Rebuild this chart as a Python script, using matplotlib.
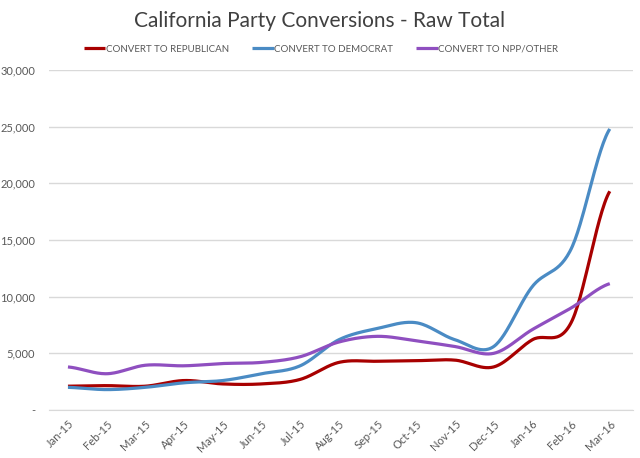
import numpy as np
import matplotlib
matplotlib.use("Agg")
import matplotlib.pyplot as plt
from matplotlib.ticker import FuncFormatter

months = ["Jan-15", "Feb-15", "Mar-15", "Apr-15", "May-15", "Jun-15", "Jul-15", "Aug-15",
          "Sep-15", "Oct-15", "Nov-15", "Dec-15", "Jan-16", "Feb-16", "Mar-16"]
republican = [2100, 2150, 2100, 2600, 2300, 2300, 2700, 4200, 4300, 4350, 4400, 3800, 6200, 7700, 19300]
democrat = [2000, 1800, 2000, 2400, 2600, 3200, 3900, 6200, 7200, 7700, 6200, 5600, 10900, 14200, 24800]
npp_other = [3800, 3200, 3950, 3900, 4100, 4200, 4700, 6000, 6500, 6100, 5600, 5000, 7100, 9000, 11150]

plt.rcParams['font.family'] = ['Lato', 'DejaVu Sans']


def smooth(y, n=30):
    # catmull-rom style smoothing like Excel's "smoothed line"
    y = np.asarray(y, dtype=float)
    x = np.arange(len(y), dtype=float)
    xs, ys = [], []
    for i in range(len(y) - 1):
        p0 = y[i - 1] if i > 0 else y[i]
        p1, p2 = y[i], y[i + 1]
        p3 = y[i + 2] if i + 2 < len(y) else y[i + 1]
        t = np.linspace(0, 1, n, endpoint=False)
        ys.append(0.5 * ((2 * p1) + (-p0 + p2) * t + (2 * p0 - 5 * p1 + 4 * p2 - p3) * t ** 2
                         + (-p0 + 3 * p1 - 3 * p2 + p3) * t ** 3))
        xs.append(x[i] + t)
    xs.append([x[-1]])
    ys.append([y[-1]])
    return np.concatenate(xs), np.concatenate(ys)


fig = plt.figure(figsize=(6.4, 4.58), dpi=100)
# plot area in pixels: x 49..633, y 70..410
ax = fig.add_axes([49 / 640, 48 / 458, 584 / 640, 340 / 458])

series = [(republican, '#A80000', 'CONVERT TO REPUBLICAN'),
          (democrat, '#4A8BC4', 'CONVERT TO DEMOCRAT'),
          (npp_other, '#8F4FC0', 'CONVERT TO NPP/OTHER')]
for vals, color, label in series:
    xs, ys = smooth(vals)
    ax.plot(xs, ys, color=color, lw=2.3, label=label, solid_capstyle='butt')

ax.set_xlim(-0.49, 14.6)
ax.set_ylim(0, 30000)
ax.set_yticks(range(0, 30001, 5000))
ax.yaxis.set_major_formatter(FuncFormatter(lambda v, p: '-' if v == 0 else f'{int(v):,}'))
ax.set_xticks(range(len(months)))
ax.set_xticklabels(months, rotation=45, ha='right', rotation_mode='anchor')
ax.grid(axis='y', color='#D9D9D9', lw=1)
ax.set_axisbelow(True)
for s in ['top', 'right', 'left']:
    ax.spines[s].set_visible(False)
ax.spines['bottom'].set_color('#D9D9D9')
ax.tick_params(axis='both', length=0, colors='#595959', labelsize=8)
ax.tick_params(axis='y', pad=10)
ax.tick_params(axis='x', pad=6)

fig.suptitle('California Party Conversions - Raw Total', y=0.975, fontsize=15, color='#404040')
fig.legend(loc='center', bbox_to_anchor=(0.502, 0.893), ncol=3, frameon=False,
           fontsize=7, handlelength=2.2, handletextpad=0.05, columnspacing=2.4,
           labelcolor='#595959')

fig.savefig('out.png', dpi=100)
